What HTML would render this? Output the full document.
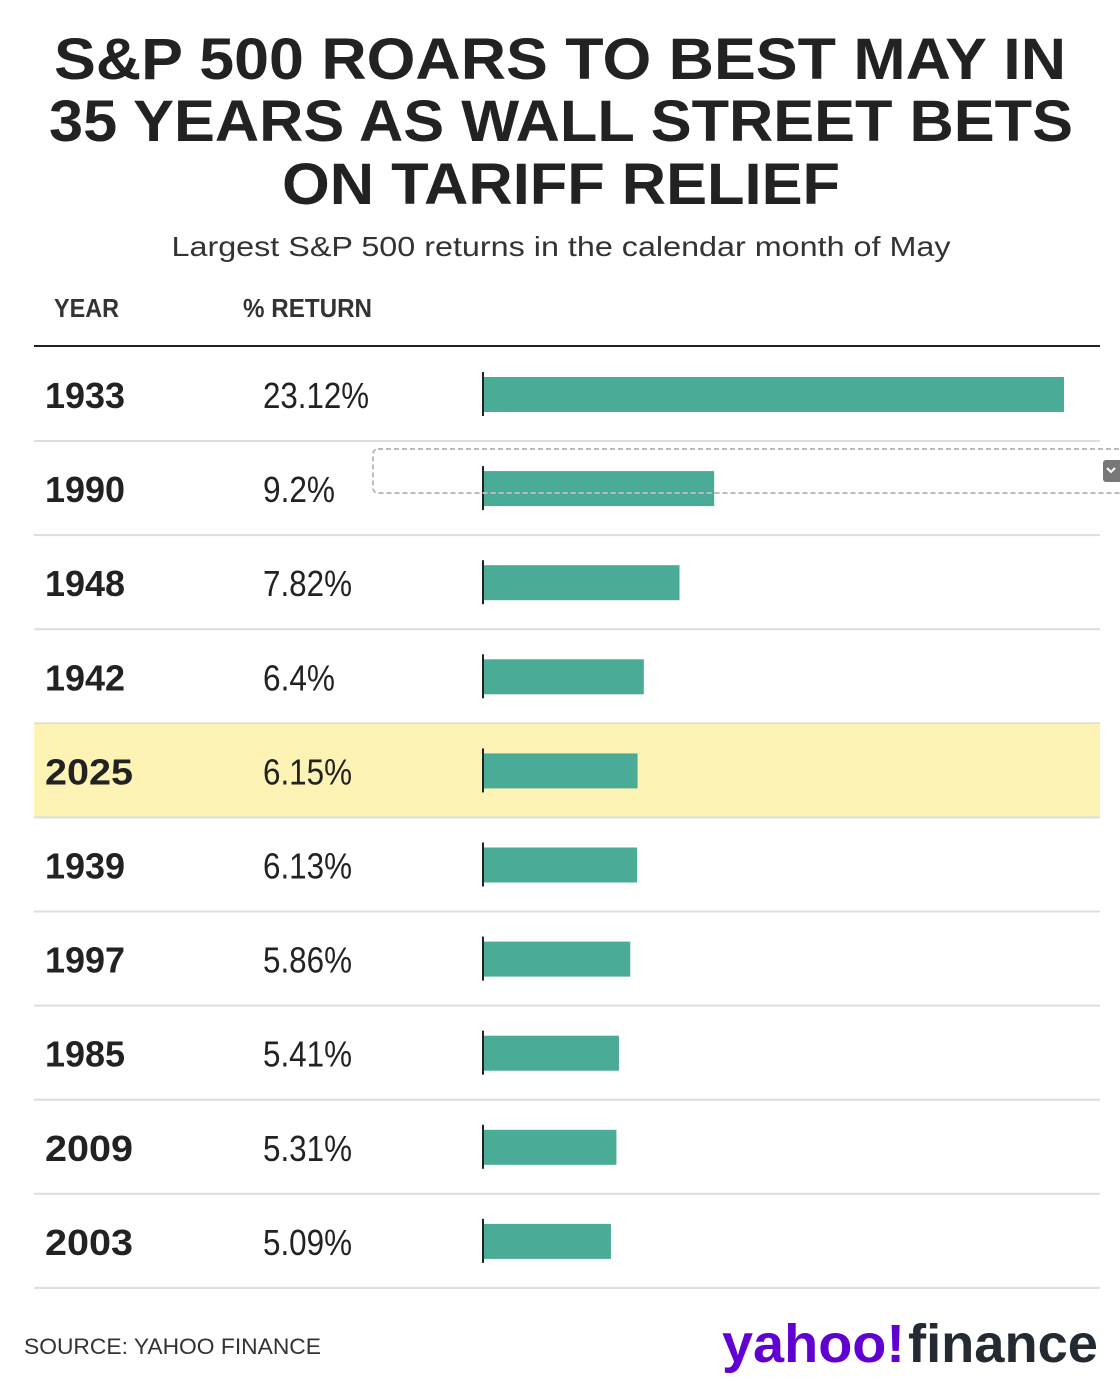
<!DOCTYPE html>
<html><head><meta charset="utf-8"><style>
html,body{margin:0;padding:0;background:#fff;}
svg{display:block;font-family:"Liberation Sans",sans-serif;}
</style></head><body>
<svg id="chart" width="1120" height="1386" viewBox="0 0 1120 1386" xmlns="http://www.w3.org/2000/svg">
<g font-weight="bold" font-size="58" fill="#222" text-anchor="middle">
<text x="560" y="79" textLength="1012" lengthAdjust="spacingAndGlyphs">S&amp;P 500 ROARS TO BEST MAY IN</text>
<text x="561" y="141" textLength="1024" lengthAdjust="spacingAndGlyphs">35 YEARS AS WALL STREET BETS</text>
<text x="561" y="204" textLength="558" lengthAdjust="spacingAndGlyphs">ON TARIFF RELIEF</text>
</g>
<text x="561" y="256" font-size="28" fill="#333" text-anchor="middle" textLength="779" lengthAdjust="spacingAndGlyphs">Largest S&amp;P 500 returns in the calendar month of May</text>
<text x="54" y="317" font-size="26" font-weight="bold" fill="#333" textLength="65" lengthAdjust="spacingAndGlyphs">YEAR</text>
<text x="243" y="317" font-size="26" font-weight="bold" fill="#333" textLength="129" lengthAdjust="spacingAndGlyphs">% RETURN</text>
<rect x="34" y="345" width="1066" height="2" fill="#222"/>
<g id="rows"></g>
<rect x="373" y="449" width="760" height="44" rx="5" fill="none" stroke="#bbb" stroke-width="2" stroke-dasharray="5,3"/>
<rect x="1103" y="460" width="20" height="22" rx="3" fill="#777"/>
<path d="M1107 468 l4 4 l4 -4" stroke="#fff" stroke-width="2" fill="none"/>
<text x="24" y="1354" font-size="22" fill="#333" textLength="297" lengthAdjust="spacingAndGlyphs">SOURCE: YAHOO FINANCE</text>
<g font-weight="bold" font-size="54">
<text x="722" y="1362" fill="#6001d2" textLength="183" lengthAdjust="spacingAndGlyphs">yahoo!</text>
<text x="908" y="1362" fill="#232a31" textLength="190" lengthAdjust="spacingAndGlyphs">finance</text>
</g>
</svg>
<script>
const years = ["1933","1990","1948","1942","2025","1939","1997","1985","2009","2003"];
const returns = [23.12, 9.2, 7.82, 6.4, 6.15, 6.13, 5.86, 5.41, 5.31, 5.09];
const labels = ["23.12%","9.2%","7.82%","6.4%","6.15%","6.13%","5.86%","5.41%","5.31%","5.09%"];
const highlightYear = "2025";
const NS = "http://www.w3.org/2000/svg";
const x0 = 483, pxPerPct = 581/23.12;
const xScale = v => x0 + v*pxPerPct;
const rowTop = i => 347 + i*94.1;
const labelWidth = s => { let w=0; for(const c of s){ w += c==='%'?32:(c==='.'?6:17); } return w; };
const g = document.getElementById('rows');
function mk(tag, attrs){const e=document.createElementNS(NS,tag);for(const k in attrs)e.setAttribute(k,attrs[k]);return e;}
years.forEach((y,i)=>{
  const top = rowTop(i);
  if(y===highlightYear){
    const h = mk('rect',{x:34,y:top+0.5,width:1066,height:93,fill:'#fdf3b5'});
    
    
    g.appendChild(h);
  }
  const yt = mk('text',{x:45,y:top+61,'font-size':36,'font-weight':'bold',fill:'#222',textLength:y==="2025"||y==="2009"||y==="2003"?88:80,lengthAdjust:'spacingAndGlyphs'});
  yt.textContent=y;
  
  
  g.appendChild(yt);
  const vt = mk('text',{x:263,y:top+61,'font-size':36,fill:'#222',textLength:labelWidth(labels[i]),lengthAdjust:'spacingAndGlyphs'});
  vt.textContent=labels[i];
  
  
  g.appendChild(vt);
  const b = mk('rect',{x:x0,y:top+30,width:xScale(returns[i])-x0,height:35,fill:'#4aab96'});
  
  
  g.appendChild(b);
  const t = mk('rect',{x:x0-1,y:top+25,width:2,height:44,fill:'#222'});
  
  
  g.appendChild(t);
  const s = mk('rect',{x:34,y:top+93,width:1066,height:2,fill:'#ddd'});
  
  
  g.appendChild(s);
});
</script>
</body></html>
